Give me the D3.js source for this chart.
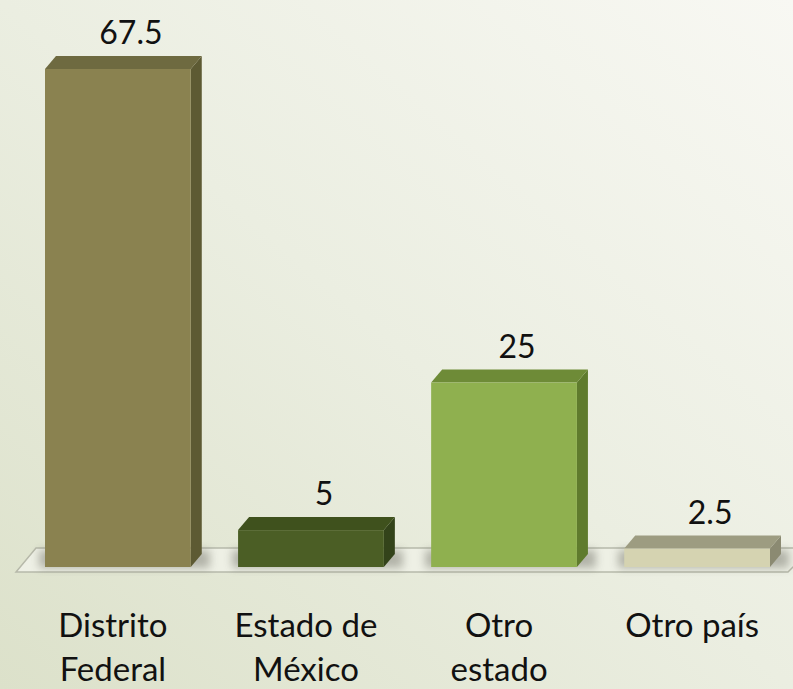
<!DOCTYPE html>
<html>
<head>
<meta charset="utf-8">
<script src="https://cdn.jsdelivr.net/npm/d3@7"></script>
<style>
html,body{margin:0;padding:0;overflow:hidden;}
svg{display:block;}
</style>
</head>
<body>
<script>
const categories = [["Distrito","Federal"],["Estado de","México"],["Otro","estado"],["Otro país"]];
const values = [67.5, 5, 25, 2.5];
const valueLabels = ["67.5","5","25","2.5"];
const frontColors = ["#8a8250","#4b5e25","#8fb04f","#d5d3b1"];
const topColors   = ["#6e6a40","#3f511d","#6e8b37","#9d9c81"];
const sideColors  = ["#5d5a33","#33431a","#5f7b2d","#8b8a72"];

const W = 793, H = 689;
const svg = d3.select("body").append("svg").attr("width", W).attr("height", H);
const defs = svg.append("defs");
const bg = defs.append("linearGradient").attr("id","bg")
  .attr("x1","0").attr("y1","1").attr("x2","1").attr("y2","0");
bg.append("stop").attr("offset","0").attr("stop-color","#dce1ca");
bg.append("stop").attr("offset","0.5").attr("stop-color","#ebeee1");
bg.append("stop").attr("offset","1").attr("stop-color","#f8f8f3");
defs.append("filter").attr("id","blur").attr("x","-50%").attr("y","-50%").attr("width","200%").attr("height","200%")
  .append("feGaussianBlur").attr("stdDeviation", 4);

svg.append("rect").attr("width", W).attr("height", H).attr("fill","url(#bg)");

const idx = d3.range(values.length);
const x = d3.scaleBand().domain(idx).range([45, 770]).paddingInner(0.245).paddingOuter(0);
const y = d3.scaleLinear().domain([0, 67.5]).range([567, 69]);
const dx = 11, dy = -13;
const bw = x.bandwidth();

// floor
const floorFront = y(0) + 5, floorBack = y(0) - 19;
svg.append("path")
  .attr("d", `M16,${floorFront} L788,${floorFront} L812,${floorBack} L36,${floorBack} Z`)
  .attr("fill","#eef0e5").attr("stroke","#b7b9aa").attr("stroke-width",1.5);

// shadows
svg.append("g").selectAll("rect").data(idx).join("rect")
  .attr("x", i => x(i) - 6).attr("width", bw + dx + 14)
  .attr("y", floorBack + 2).attr("height", y(0) - floorBack - 1)
  .attr("fill","#6a6a60").attr("opacity",0.45).attr("filter","url(#blur)");

const g = svg.append("g");
idx.forEach(i => {
  const x0 = x(i), x1 = x0 + bw, yt = y(values[i]), yb = y(0);
  // side
  g.append("path").attr("d", `M${x1},${yt} L${x1+dx},${yt+dy} L${x1+dx},${yb+dy} L${x1},${yb} Z`).attr("fill", sideColors[i]);
  // top
  g.append("path").attr("d", `M${x0},${yt} L${x0+dx},${yt+dy} L${x1+dx},${yt+dy} L${x1},${yt} Z`).attr("fill", topColors[i]);
  // front
  g.append("rect").attr("x", x0).attr("y", yt).attr("width", bw).attr("height", yb - yt).attr("fill", frontColors[i]);
});

// value labels
svg.append("g").selectAll("text").data(idx).join("text")
  .attr("x", i => x(i) + bw/2 + 13)
  .attr("y", i => y(values[i]) - 25)
  .attr("text-anchor","middle")
  .attr("font-family","Lato, sans-serif").attr("font-size", 32).attr("fill","#111")
  .text(i => valueLabels[i]);

// category labels
const cl = svg.append("g").selectAll("text").data(idx).join("text")
  .attr("x", i => x(i) + bw/2 - 5)
  .attr("y", 637)
  .attr("text-anchor","middle")
  .attr("font-family","Lato, sans-serif").attr("font-size", 33).attr("fill","#111");
cl.each(function(i){
  const t = d3.select(this);
  categories[i].forEach((line, k) => {
    t.append("tspan").attr("x", x(i) + bw/2 - 5).attr("dy", k === 0 ? 0 : 44).text(line);
  });
});
</script>
</body>
</html>
